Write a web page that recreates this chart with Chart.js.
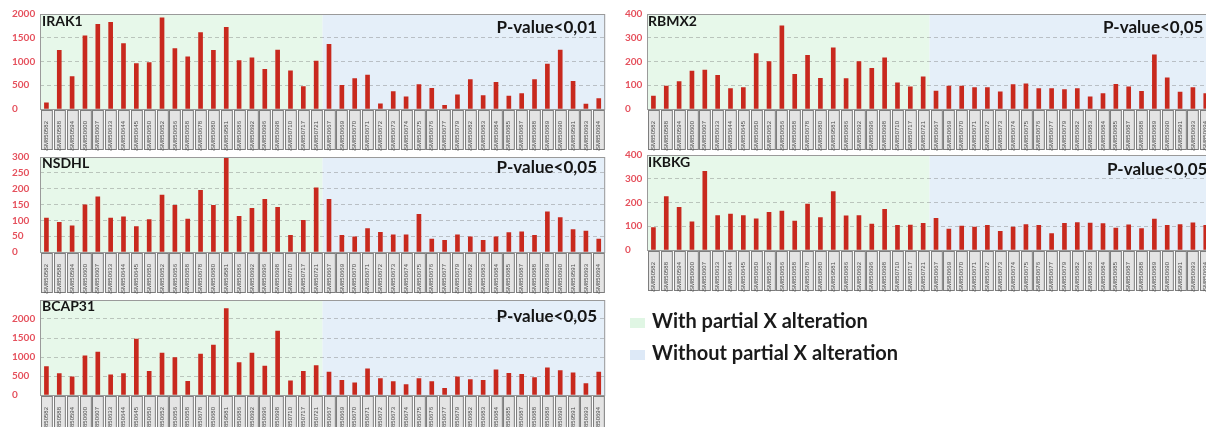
<!DOCTYPE html>
<html lang="en">
<head>
<meta charset="UTF-8">
<title>X-linked gene expression</title>
<script src="https://cdn.jsdelivr.net/npm/chart.js"></script>
<style>
  body {
    margin: 0;
    width: 1206px;
    height: 427px;
    overflow: hidden;
    position: relative;
    background: #fff;
    font-family: Lato, 'Open Sans', Arial, sans-serif;
  }
  canvas { position: absolute; }
  .gene, .pval {
    position: absolute;
    font-weight: bold;
    line-height: 1;
    color: #151515;
    white-space: nowrap;
  }
  .gene { font-size: 14px; }
  .pval { font-size: 17px; }
  .legend {
    position: absolute;
    left: 630px;
    font-size: 20px;
    font-weight: bold;
    color: #1a1a1a;
    line-height: 1;
    white-space: nowrap;
  }
  .legend span {
    display: inline-block;
    width: 15px;
    height: 10px;
    margin-right: 7px;
  }
</style>
</head>
<body>

<canvas id="irak1" width="610" height="146" style="left:0;top:5px"></canvas>
<canvas id="nsdhl" width="610" height="146" style="left:0;top:148px"></canvas>
<canvas id="bcap31" width="610" height="146" style="left:0;top:291px"></canvas>
<canvas id="rbmx2" width="610" height="146" style="left:607px;top:5px"></canvas>
<canvas id="ikbkg" width="610" height="146" style="left:607px;top:146px"></canvas>

<div class="gene" style="left:42px;top:14px">IRAK1</div>
<div class="gene" style="left:42px;top:156px">NSDHL</div>
<div class="gene" style="left:42px;top:299px">BCAP31</div>
<div class="gene" style="left:648px;top:14px">RBMX2</div>
<div class="gene" style="left:648px;top:155px">IKBKG</div>

<div class="pval" style="right:609px;top:18px">P-value&lt;0,01</div>
<div class="pval" style="right:609px;top:158px">P-value&lt;0,05</div>
<div class="pval" style="right:609px;top:307px">P-value&lt;0,05</div>
<div class="pval" style="left:1103px;top:18px">P-value&lt;0,05</div>
<div class="pval" style="left:1107px;top:160px">P-value&lt;0,05</div>

<div class="legend" style="top:310px"><span style="background:#e0f6e4"></span>With partial X alteration</div>
<div class="legend" style="top:342px"><span style="background:#dde9f7"></span>Without partial X alteration</div>

<script>
// samples: first 22 with partial X alteration, last 22 without
const sampleIds = [
  'GSM850582', 'GSM850588', 'GSM850594', 'GSM850600', 'GSM850607', 'GSM850633',
  'GSM850644', 'GSM850645', 'GSM850650', 'GSM850652', 'GSM850656', 'GSM850658',
  'GSM850678', 'GSM850680', 'GSM859581', 'GSM850686', 'GSM850692', 'GSM850696',
  'GSM850698', 'GSM850710', 'GSM850717', 'GSM850721',
  'GSM850667', 'GSM850669', 'GSM850670', 'GSM850671', 'GSM850672', 'GSM850673',
  'GSM850674', 'GSM850675', 'GSM850676', 'GSM850677', 'GSM850679', 'GSM850682',
  'GSM850683', 'GSM850684', 'GSM850685', 'GSM850687', 'GSM850688', 'GSM850689',
  'GSM850690', 'GSM859591', 'GSM850693', 'GSM850694'
];
const nWithAlteration = 22;

const irak1 = [
  130, 1236, 680, 1542, 1785, 1826, 1375, 958, 979, 1917, 1271, 1097,
  1611, 1236, 1722, 1021, 1076, 833, 1243, 806, 472, 1010,
  1360, 500, 640, 715, 111, 368, 257, 514, 437, 76, 299, 618,
  285, 562, 271, 326, 618, 944, 1243, 583, 104, 222
];
const nsdhl = [
  107, 94, 83, 149, 174, 107, 111, 80, 102, 180, 147, 104,
  195, 147, 300, 113, 138, 166, 141, 53, 100, 203,
  166, 53, 48, 74, 62, 54, 54, 119, 41, 37, 54, 48,
  37, 48, 61, 64, 53, 127, 109, 71, 66, 41
];
const bcap31 = [
  750, 564, 476, 1032, 1129, 529, 564, 1473, 626, 1102, 988, 362,
  1076, 1314, 2275, 855, 1102, 758, 1684, 370, 626, 776,
  600, 388, 317, 688, 432, 353, 273, 432, 353, 176, 476, 406,
  388, 661, 573, 547, 459, 714, 644, 582, 300, 600
];
const rbmx2 = [
  54, 96, 115, 160, 164, 142, 86, 90, 233, 200, 350, 146,
  226, 129, 258, 128, 200, 171, 215, 110, 93, 135,
  75, 96, 96, 90, 90, 72, 103, 106, 86, 86, 82, 86,
  51, 65, 104, 93, 74, 228, 131, 71, 90, 65
];
const ikbkg = [
  94, 225, 180, 119, 331, 145, 151, 145, 131, 159, 164, 122,
  193, 137, 246, 144, 145, 109, 171, 104, 105, 112,
  133, 88, 101, 97, 104, 79, 97, 107, 104, 69, 112, 115,
  113, 111, 92, 106, 90, 130, 104, 107, 114, 104
];

// y axis: max, step, highest labelled tick
const irak1Ticks = [2000, 500, 2000];
const nsdhlTicks = [300, 50, 300];
const bcap31Ticks = [2500, 500, 2000];
const rbmx2Ticks = [400, 100, 400];
const ikbkgTicks = [400, 100, 400];

const panelDecor = {
  id: 'panelDecor',
  beforeDraw(chart) {
    const { ctx, chartArea: a, scales: { x } } = chart;
    const split = (x.getPixelForValue(nWithAlteration - 1) + x.getPixelForValue(nWithAlteration)) / 2;
    ctx.save();
    ctx.fillStyle = '#e7f8ea';
    ctx.fillRect(a.left, a.top, split - a.left, a.bottom - a.top);
    ctx.fillStyle = '#e5eff9';
    ctx.fillRect(split, a.top, a.right - split, a.bottom - a.top);

    // grey boxes holding the sample names
    const w = x.getPixelForValue(1) - x.getPixelForValue(0);
    ctx.lineWidth = 1;
    for (let i = 0; i < sampleIds.length; i++) {
      const cx = x.getPixelForValue(i);
      const left = Math.round(cx - w / 2) + 1.5;
      const top = Math.round(a.bottom) + 1.5;
      const h = x.bottom - a.bottom - 3;
      ctx.fillStyle = '#e4e4e4';
      ctx.fillRect(left, top, w - 2, h);
      ctx.strokeStyle = '#7d7d7d';
      ctx.strokeRect(left, top, w - 2, h);
    }
    ctx.restore();
  },
  afterDraw(chart) {
    const { ctx, chartArea: a } = chart;
    ctx.save();
    ctx.strokeStyle = '#9a9a9a';
    ctx.lineWidth = 1;
    ctx.strokeRect(a.left + 0.5, a.top + 0.5, a.right - a.left - 1, a.bottom - a.top);
    ctx.restore();
  }
};

function makePanel(id, values, ticks, padLeft, axisWidth) {
  const [yMax, step, lastLabel] = ticks;
  new Chart(document.getElementById(id), {
    type: 'bar',
    data: {
      labels: sampleIds,
      datasets: [{
        data: values,
        backgroundColor: '#c8291e',
        barThickness: 4
      }]
    },
    options: {
      responsive: false,
      animation: false,
      layout: { padding: { left: padLeft, right: 4, top: 8, bottom: 0 } },
      plugins: { legend: { display: false }, tooltip: { enabled: false } },
      scales: {
        x: {
          grid: { display: false },
          border: { display: false },
          ticks: {
            autoSkip: false,
            minRotation: 90,
            maxRotation: 90,
            padding: 4,
            color: '#4a4a4a',
            font: { size: 6, family: 'Liberation Sans' }
          },
          afterFit: s => { s.height = 42; }
        },
        y: {
          min: 0,
          max: yMax,
          grid: { color: 'rgba(120,120,120,0.4)', drawTicks: false },
          border: { display: false, dash: [4, 3] },
          ticks: {
            stepSize: step,
            crossAlign: 'far',
            color: '#e5505c',
            font: { size: 10, weight: 'bold', family: 'Lato' },
            callback: v => (v <= lastLabel ? v : '')
          },
          afterFit: s => { s.width = axisWidth; }
        }
      }
    },
    plugins: [panelDecor]
  });
}

makePanel('irak1', irak1, irak1Ticks, 12, 28);
makePanel('nsdhl', nsdhl, nsdhlTicks, 12, 28);
makePanel('bcap31', bcap31, bcap31Ticks, 12, 28);
makePanel('rbmx2', rbmx2, rbmx2Ticks, 18, 22);
makePanel('ikbkg', ikbkg, ikbkgTicks, 18, 22);
</script>

</body>
</html>
